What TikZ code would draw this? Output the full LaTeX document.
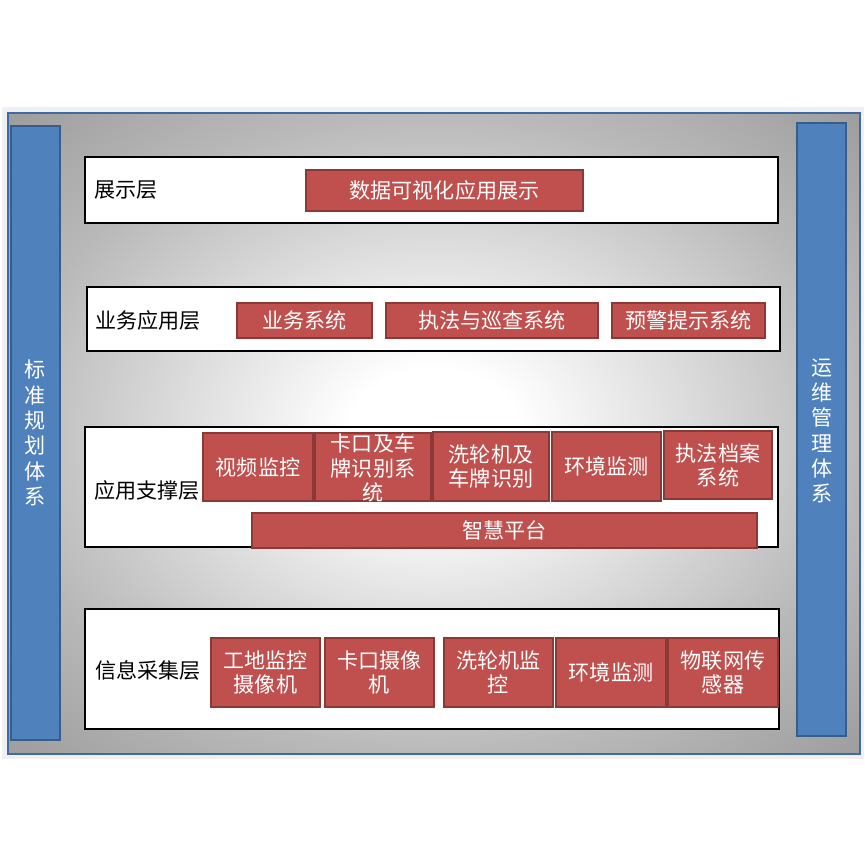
\documentclass[tikz,border=0pt]{standalone}
\usepackage{fontspec}
\newfontfamily\cjk{Noto Sans CJK SC}
\usetikzlibrary{fit}
\definecolor{redfill}{HTML}{C0504D}
\definecolor{redline}{HTML}{8C3836}
\definecolor{bluefill}{HTML}{4F81BD}
\definecolor{blueline}{HTML}{385D8A}
\definecolor{frameblue}{HTML}{3F6AA5}
\pgfdeclareradialshading{bgshade}{\pgfpoint{0bp}{0bp}}{color(0bp)=(white); color(5bp)=(white); color(25bp)=(gray!55); color(36bp)=(gray!78); color(50bp)=(gray!78)}
\begin{document}
\begin{tikzpicture}[x=0.3mm,y=-0.3mm,
  layerbox/.style={draw=black, line width=1.6pt, fill=white, inner sep=0pt},
  redbox/.style={draw=redline, line width=0.9pt, fill=redfill, inner sep=0pt},
  bar/.style={draw=blueline, line width=1.2pt, fill=bluefill, inner sep=0pt},
  lbl/.style={anchor=west, text=black, inner sep=0pt, font=\cjk\fontsize{18}{20.4}\selectfont},
  btxt/.style={text=white, align=center, inner sep=0pt, font=\cjk\fontsize{18}{20.6}\selectfont},
  vtxt/.style={text=white, align=center, inner sep=0pt, font=\cjk\fontsize{18}{21.6}\selectfont}]
\useasboundingbox (0,0) rectangle (865,865);
\fill[white] (0,0) rectangle (865,865);
\node[fit={(2,107) (864,759)}, fill=gray!12, inner sep=0pt] (outer) {};
\node[fit={(8,113) (860,754)}, shading=bgshade, draw=frameblue, line width=1.5pt, inner sep=0pt] (frame) {};
% side bars
\node[bar, fit={(11,126) (60,740)}] (leftbar) {};
\node[vtxt] (lefttxt) at (35,433) {标\\准\\规\\划\\体\\系};
\node[bar, fit={(797,123) (846,736)}] (rightbar) {};
\node[vtxt] (righttxt) at (822,431) {运\\维\\管\\理\\体\\系};
% layer 1
\node[layerbox, fit={(85,157) (778,223)}] (L1) {};
\node[lbl] (L1t) at (94,190) {展示层};
\node[redbox, fit={(306,170) (583,211)}] (r1) {};
\node[btxt] (r1t) at (r1) {数据可视化应用展示};
% layer 2
\node[layerbox, fit={(87,287) (780,351)}] (L2) {};
\node[lbl] (L2t) at (95,320) {业务应用层};
\node[redbox, fit={(237,303) (372,338)}] (r2a) {};
\node[btxt] (r2at) at (r2a) {业务系统};
\node[redbox, fit={(386,303) (598,338)}] (r2b) {};
\node[btxt] (r2bt) at (r2b) {执法与巡查系统};
\node[redbox, fit={(612,303) (765,338)}] (r2c) {};
\node[btxt] (r2ct) at (r2c) {预警提示系统};
% layer 3
\node[layerbox, fit={(85,427) (778,547)}] (L3) {};
\node[lbl] (L3t) at (94,490) {应用支撑层};
\node[redbox, fit={(203,433) (313,501)}] (r3a) {};
\node[btxt] (r3at) at (r3a) {视频监控};
\node[redbox, fit={(315,433) (431,501)}] (r3b) {};
\node[btxt] (r3bt) at ([yshift=-0.3mm]r3b.center) {卡口及车\\牌识别系\\统};
\node[redbox, fit={(433,432) (549,501)}] (r3c) {};
\node[btxt] (r3ct) at (r3c) {洗轮机及\\车牌识别};
\node[redbox, fit={(552,432) (661,501)}] (r3d) {};
\node[btxt] (r3dt) at (r3d) {环境监测};
\node[redbox, fit={(664,431) (772,499)}] (r3e) {};
\node[btxt] (r3et) at (r3e) {执法档案\\系统};
\node[redbox, fit={(252,513) (757,548)}] (r3f) {};
\node[btxt] (r3ft) at (r3f) {智慧平台};
% layer 4
\node[layerbox, fit={(85,609) (779,729)}] (L4) {};
\node[lbl] (L4t) at (95,670) {信息采集层};
\node[redbox, fit={(211,638) (320,707)}] (r4a) {};
\node[btxt] (r4at) at (r4a) {工地监控\\摄像机};
\node[redbox, fit={(325,638) (434,707)}] (r4b) {};
\node[btxt] (r4bt) at (r4b) {卡口摄像\\机};
\node[redbox, fit={(444,638) (553,707)}] (r4c) {};
\node[btxt] (r4ct) at (r4c) {洗轮机监\\控};
\node[redbox, fit={(556,638) (666,707)}] (r4d) {};
\node[btxt] (r4dt) at (r4d) {环境监测};
\node[redbox, fit={(668,638) (778,707)}] (r4e) {};
\node[btxt] (r4et) at (r4e) {物联网传\\感器};
\end{tikzpicture}
\end{document}
